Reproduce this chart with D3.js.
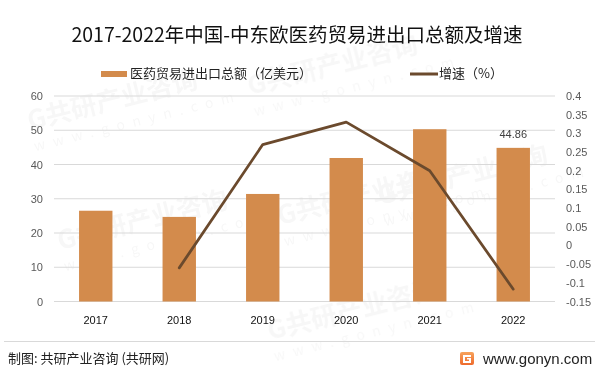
<!DOCTYPE html>
<html>
<head>
<meta charset="utf-8">
<script src="https://cdn.jsdelivr.net/npm/d3@7"></script>
<style>
  body { margin: 0; background: #fff; }
  svg { display: block; font-family: "Noto Sans CJK SC", "Noto Sans", sans-serif; }
</style>
</head>
<body>
<div id="chart"></div>
<script>
// 数据
const years = ["2017", "2018", "2019", "2020", "2021", "2022"];
const totals = [26.5, 24.7, 31.4, 41.9, 50.3, 44.86];       // 亿美元
const growth = [null, -0.06, 0.27, 0.33, 0.20, -0.117];      // 增速
const leftTicks = [0, 10, 20, 30, 40, 50, 60];
const rightTicks = [-0.15, -0.1, -0.05, 0, 0.05, 0.1, 0.15, 0.2, 0.25, 0.3, 0.35, 0.4];

const width = 602, height = 377;
const plot = { left: 54, right: 555, top: 96, bottom: 301.5 };
const barColor = "#D38B4C", lineColor = "#6B4A2D";

const svg = d3.select("#chart").append("svg")
    .attr("width", width)
    .attr("height", height);

// 水印（很淡）
const wm = svg.append("g").attr("opacity", 0.035).attr("fill", "#000");
[[30, 130], [250, 95], [60, 250], [280, 225], [380, 205], [270, 340]].forEach(p => {
    const g = wm.append("g").attr("transform", `translate(${p[0]},${p[1]}) rotate(-14)`);
    g.append("text").attr("font-size", 26).attr("font-weight", "bold").text("G共研产业咨询");
    g.append("text").attr("y", 22).attr("font-size", 14).attr("letter-spacing", 8).text("www.gonyn.com");
});

// 标题
svg.append("text")
    .attr("x", 297).attr("y", 42)
    .attr("text-anchor", "middle")
    .attr("font-size", 19.5)
    .attr("fill", "#111")
    .text("2017-2022年中国-中东欧医药贸易进出口总额及增速");

// 图例
const legend = svg.append("g").attr("font-size", 13).attr("fill", "#222");
legend.append("rect").attr("x", 101).attr("y", 71).attr("width", 26).attr("height", 6).attr("fill", barColor);
legend.append("text").attr("x", 130).attr("y", 78).text("医药贸易进出口总额（亿美元）");
legend.append("line").attr("x1", 410).attr("x2", 438).attr("y1", 74).attr("y2", 74)
    .attr("stroke", lineColor).attr("stroke-width", 3);
legend.append("text").attr("x", 439).attr("y", 78).text("增速（%）");

// 比例尺
const x = d3.scaleBand()
    .domain(years)
    .range([plot.left, plot.right])
    .paddingInner(0.6)
    .paddingOuter(0.3);

const yL = d3.scaleLinear().domain([0, 60]).range([plot.bottom, plot.top]);
const yR = d3.scaleLinear().domain([-0.15, 0.4]).range([plot.bottom, plot.top]);

// 网格线
svg.append("g")
    .selectAll("line")
    .data(leftTicks)
    .enter()
    .append("line")
    .attr("x1", plot.left).attr("x2", plot.right)
    .attr("y1", d => yL(d)).attr("y2", d => yL(d))
    .attr("stroke", "#d9d9d9").attr("stroke-width", 1);

// 左轴
const axisL = svg.append("g")
    .attr("transform", `translate(${plot.left},0)`)
    .call(d3.axisLeft(yL).tickValues(leftTicks).tickSize(0).tickPadding(11));
axisL.select(".domain").remove();
axisL.selectAll("text").attr("font-size", 11).attr("fill", "#595959").attr("font-family", "Liberation Sans, sans-serif");

// 右轴
const axisR = svg.append("g")
    .attr("transform", `translate(${plot.right},0)`)
    .call(d3.axisRight(yR).tickValues(rightTicks).tickSize(0).tickPadding(11)
        .tickFormat(d => String(+d.toFixed(2))));
axisR.select(".domain").remove();
axisR.selectAll("text").attr("font-size", 11).attr("fill", "#595959").attr("font-family", "Liberation Sans, sans-serif");

// 柱子
svg.append("g")
    .selectAll("rect")
    .data(totals)
    .enter()
    .append("rect")
    .attr("x", (d, i) => x(years[i]))
    .attr("y", d => yL(d))
    .attr("width", x.bandwidth())
    .attr("height", d => yL(0) - yL(d))
    .attr("fill", barColor);

// 数据标签（仅2022）
svg.append("text")
    .attr("x", x("2022") + x.bandwidth() / 2)
    .attr("y", yL(totals[5]) - 10)
    .attr("text-anchor", "middle")
    .attr("font-size", 11)
    .attr("fill", "#404040")
    .attr("font-family", "Liberation Sans, sans-serif")
    .text(totals[5].toFixed(2));

// 折线
const line = d3.line()
    .defined(d => d.v !== null)
    .x(d => x(d.year) + x.bandwidth() / 2)
    .y(d => yR(d.v));

svg.append("path")
    .datum(years.map((yr, i) => ({ year: yr, v: growth[i] })))
    .attr("d", line)
    .attr("fill", "none")
    .attr("stroke", lineColor)
    .attr("stroke-width", 2.75)
    .attr("stroke-linejoin", "round")
    .attr("stroke-linecap", "round");

// X轴标签
svg.append("g")
    .selectAll("text")
    .data(years)
    .enter()
    .append("text")
    .attr("x", d => x(d) + x.bandwidth() / 2)
    .attr("y", 324)
    .attr("text-anchor", "middle")
    .attr("font-size", 11)
    .attr("fill", "#111")
    .attr("font-family", "Liberation Sans, sans-serif")
    .text(d => d);

// 底部分隔线与来源
svg.append("line")
    .attr("x1", 4).attr("x2", 595).attr("y1", 341.5).attr("y2", 341.5)
    .attr("stroke", "#d9d9d9");

svg.append("text")
    .attr("x", 8).attr("y", 363)
    .attr("font-size", 13)
    .attr("fill", "#222")
    .text("制图: 共研产业咨询 (共研网)");

// logo
const logo = svg.append("g").attr("transform", "translate(460,352)");
const grad = svg.append("defs").append("linearGradient").attr("id", "lg").attr("x1", 0).attr("y1", 0).attr("x2", 0).attr("y2", 1);
grad.append("stop").attr("offset", 0).attr("stop-color", "#f7a35c");
grad.append("stop").attr("offset", 1).attr("stop-color", "#ee6a2c");
logo.append("rect").attr("width", 14).attr("height", 13).attr("rx", 2).attr("fill", "url(#lg)");
logo.append("path").attr("d", "M3,3 H11 V5 H5 V9 H9 V7.5 H7 V6 H11 V11 H3 Z").attr("fill", "#fff");

svg.append("text")
    .attr("x", 483).attr("y", 364)
    .attr("font-size", 15)
    .attr("fill", "#222")
    .attr("font-family", "Liberation Sans, sans-serif")
    .text("www.gonyn.com");
</script>
</body>
</html>
